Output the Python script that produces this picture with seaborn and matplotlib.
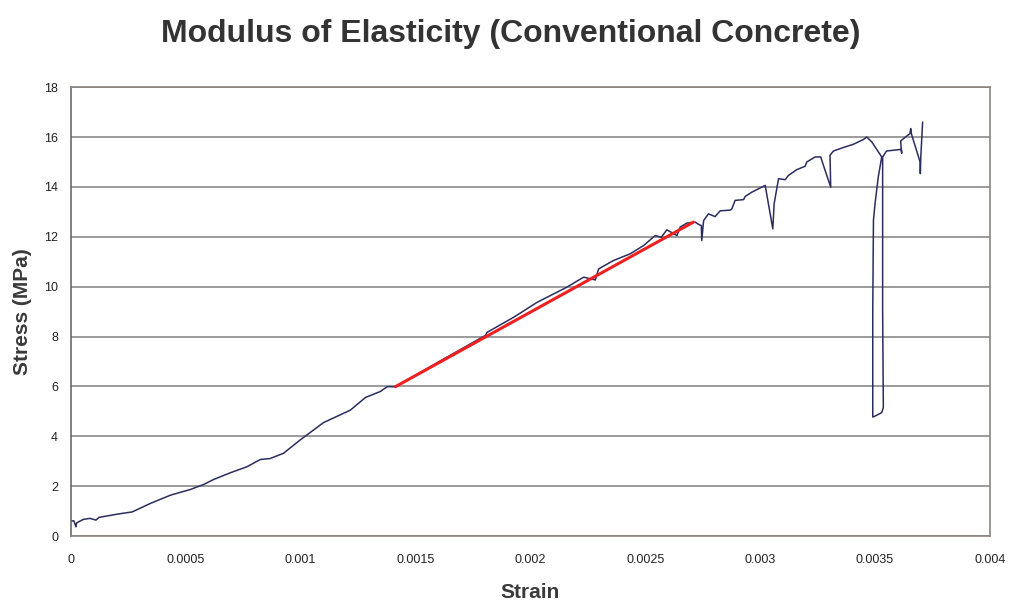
import numpy as np
import pandas as pd
import matplotlib
matplotlib.use("Agg")
import matplotlib.pyplot as plt
import seaborn as sns

strain = [
    0.0, 0.000014, 0.000023, 0.000026, 0.000055, 0.000084, 0.00011, 0.000123,
    0.000203, 0.000268, 0.000347, 0.000434, 0.000521, 0.000579, 0.000622,
    0.000695, 0.000767, 0.000825, 0.000868, 0.000926, 0.000998, 0.0011,
    0.001217, 0.001283, 0.001348, 0.001377, 0.001413, 0.001623, 0.001805,
    0.001812, 0.001927, 0.002029, 0.002159, 0.002232, 0.002283, 0.002297,
    0.002362, 0.002435, 0.002493, 0.002543, 0.00257, 0.002594, 0.002638,
    0.002652, 0.002681, 0.002717, 0.002732, 0.002744, 0.002746, 0.002754,
    0.002775, 0.002804, 0.002826, 0.00287, 0.002877, 0.002891, 0.002928,
    0.002935, 0.002964, 0.003022, 0.003055, 0.003061, 0.00308, 0.003109,
    0.003123, 0.003159, 0.003196, 0.003203, 0.003239, 0.003264, 0.003268,
    0.003307, 0.003304, 0.003319, 0.003362, 0.003406, 0.003449, 0.003464,
    0.003486, 0.003529, 0.003514, 0.0035, 0.003493, 0.00349, 0.00349,
    0.003493, 0.003529, 0.003536, 0.003533, 0.003533, 0.00355, 0.003609,
    0.003614, 0.003616, 0.003611, 0.003652, 0.003655, 0.003659, 0.003696,
    0.003697, 0.003699, 0.003707,
]
stress = [
    0.61, 0.61, 0.37, 0.53, 0.67, 0.71, 0.64, 0.75,
    0.88, 0.97, 1.31, 1.64, 1.87, 2.07, 2.27,
    2.54, 2.78, 3.07, 3.11, 3.32, 3.85, 4.55,
    5.05, 5.56, 5.8, 5.99, 5.99, 7.1, 8.05,
    8.17, 8.77, 9.37, 9.98, 10.38, 10.27, 10.71,
    11.05, 11.32, 11.65, 12.05, 11.98, 12.28, 12.05,
    12.39, 12.55, 12.59, 12.5, 12.45, 11.85, 12.65,
    12.92, 12.81, 13.04, 13.07, 13.12, 13.46, 13.49,
    13.62, 13.79, 14.06, 12.32, 13.33, 14.33, 14.29,
    14.46, 14.69, 14.83, 15.0, 15.2, 15.2, 15.07,
    13.99, 15.27, 15.44, 15.58, 15.71, 15.9, 16.0,
    15.8, 15.2, 14.4, 13.33, 12.66, 9.04, 4.78,
    4.78, 4.95, 5.16, 9.04, 15.2, 15.44, 15.5,
    15.5, 15.35, 15.84, 16.14, 16.34, 16.1, 15.0,
    14.53, 15.2, 16.6,
]

# linear fit used for modulus
fit_strain = [0.001413, 0.00271]
fit_stress = [5.99, 12.59]

curve = pd.DataFrame({"Strain": strain, "Stress": stress})
fit = pd.DataFrame({"Strain": fit_strain, "Stress": fit_stress})

sns.set_style("white")
plt.rcParams["font.family"] = ["Liberation Sans", "DejaVu Sans"]

fig = plt.figure(figsize=(10.11, 6.01), dpi=100)
ax = fig.add_axes([0.0699, 0.108, 0.9093, 0.747])

sns.lineplot(data=curve, x="Strain", y="Stress", sort=False, estimator=None,
             color="#2b2d5e", linewidth=1.1, ax=ax)
sns.lineplot(data=fit, x="Strain", y="Stress", sort=False, estimator=None,
             color="#ee2020", linewidth=2.2, ax=ax)

ax.set_xlim(0, 0.004)
ax.set_ylim(0, 18)
ax.set_xticks(np.arange(0, 0.0041, 0.0005))
ax.set_xticklabels(["0", "0.0005", "0.001", "0.0015", "0.002", "0.0025",
                    "0.003", "0.0035", "0.004"])
ax.set_yticks(range(0, 19, 2))
ax.yaxis.grid(True, color="#8a8a8a", linewidth=1.2)
ax.set_axisbelow(True)

for s in ax.spines.values():
    s.set_visible(True)
    s.set_color("#8c8480")
    s.set_linewidth(1.2)
ax.spines["left"].set_color("#6e6a6a")

ax.tick_params(axis="both", direction="out", length=5, width=1,
               color="#6e6a6a", labelsize=9, labelcolor="#222222", pad=4)
ax.tick_params(axis="x", pad=8)

ax.set_xlabel("Strain", fontsize=15, fontweight="bold", color="#3a3a3a", labelpad=12)
ax.set_ylabel("Stress (MPa)", fontsize=15, fontweight="bold", color="#3a3a3a", labelpad=9)
fig.suptitle("Modulus of Elasticity (Conventional Concrete)", fontsize=23,
             fontweight="bold", color="#333333", x=0.505, y=0.968)

fig.savefig("out.png", dpi=100)
